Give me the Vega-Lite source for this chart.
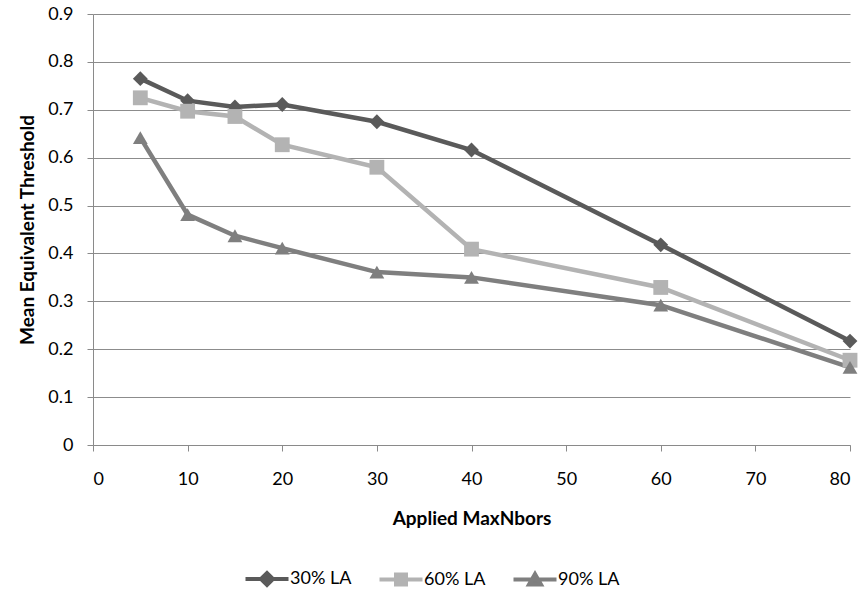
{
  "$schema": "https://vega.github.io/schema/vega-lite/v6.json",
  "width": 757,
  "height": 431,
  "autosize": "none",
  "padding": {"left": 93, "top": 14, "right": 15, "bottom": 149},
  "background": "white",
  "config": {
    "view": {"stroke": null},
    "font": "Lato",
    "axis": {"labelFont": "Lato", "titleFont": "Lato", "labelColor": "#000", "titleColor": "#000", "labelFontSize": 18, "titleFontSize": 19, "titleFontWeight": "bold", "domainColor": "#8a8a8a", "tickColor": "#8a8a8a", "gridColor": "#8c8c8c", "gridOpacity": 1}
  },
  "data": {
    "values": [
      {"n": 5, "v": 0.765, "s": "30% LA"},
      {"n": 10, "v": 0.719, "s": "30% LA"},
      {"n": 15, "v": 0.706, "s": "30% LA"},
      {"n": 20, "v": 0.711, "s": "30% LA"},
      {"n": 30, "v": 0.675, "s": "30% LA"},
      {"n": 40, "v": 0.616, "s": "30% LA"},
      {"n": 60, "v": 0.418, "s": "30% LA"},
      {"n": 80, "v": 0.217, "s": "30% LA"},
      {"n": 5, "v": 0.725, "s": "60% LA"},
      {"n": 10, "v": 0.697, "s": "60% LA"},
      {"n": 15, "v": 0.686, "s": "60% LA"},
      {"n": 20, "v": 0.627, "s": "60% LA"},
      {"n": 30, "v": 0.58, "s": "60% LA"},
      {"n": 40, "v": 0.409, "s": "60% LA"},
      {"n": 60, "v": 0.329, "s": "60% LA"},
      {"n": 80, "v": 0.177, "s": "60% LA"},
      {"n": 5, "v": 0.642, "s": "90% LA"},
      {"n": 10, "v": 0.481, "s": "90% LA"},
      {"n": 15, "v": 0.437, "s": "90% LA"},
      {"n": 20, "v": 0.411, "s": "90% LA"},
      {"n": 30, "v": 0.361, "s": "90% LA"},
      {"n": 40, "v": 0.35, "s": "90% LA"},
      {"n": 60, "v": 0.292, "s": "90% LA"},
      {"n": 80, "v": 0.162, "s": "90% LA"}
    ]
  },
  "encoding": {
    "x": {"field": "n", "type": "quantitative", "scale": {"domain": [0, 80], "nice": false}, "axis": {"title": "Applied MaxNbors", "values": [0,10,20,30,40,50,60,70,80], "grid": false, "tickSize": 6, "labelPadding": 19, "titlePadding": 21, "domainWidth": 1}},
    "y": {"field": "v", "type": "quantitative", "scale": {"domain": [0, 0.9], "nice": false}, "axis": {"title": "Mean Equivalent Threshold", "values": [0,0.1,0.2,0.3,0.4,0.5,0.6,0.7,0.8,0.9], "format": "~g", "tickSize": 6, "labelPadding": 14, "titlePadding": 10, "gridWidth": 1}},
    "color": {"field": "s", "type": "nominal", "scale": {"domain": ["30% LA", "60% LA", "90% LA"], "range": ["#5a5a5a", "#b3b3b3", "#7f7f7f"]},
      "legend": {"title": null, "orient": "none", "direction": "horizontal", "legendX": 165, "legendY": 556, "padding": 0, "labelFont": "Lato", "labelFontSize": 18, "labelColor": "#000", "symbolSize": 100, "symbolStrokeWidth": 4, "columnPadding": 19, "labelOffset": 14,
        "encode": {"symbols": {"update": {"shape": {"signal": "datum.value == '30% LA' ? 'M-4.3,0H4.3M-1.2,0L0,-1.2L1.2,0L0,1.2Z' : datum.value == '60% LA' ? 'M-4.3,0H4.3M-1,-1H1V1H-1Z' : 'M-4.3,0H4.3M-1.2,1L0,-1.1L1.2,1Z'"}, "stroke": {"scale": "color", "field": "value"}, "fill": {"scale": "color", "field": "value"}, "fillOpacity": {"value": 1}, "strokeWidth": {"value": 4}, "opacity": {"value": 1}}}}}
    }
  },
  "layer": [
    {"mark": {"type": "line", "strokeWidth": 4.5}},
    {"transform": [{"filter": "datum.s == '30% LA'"}], "mark": {"type": "point", "filled": true, "opacity": 1, "size": 220, "shape": "diamond"}},
    {"transform": [{"filter": "datum.s == '60% LA'"}], "mark": {"type": "point", "filled": true, "opacity": 1, "size": 220, "shape": "square"}},
    {"transform": [{"filter": "datum.s == '90% LA'"}], "mark": {"type": "point", "filled": true, "opacity": 1, "size": 220, "shape": "triangle-up"}}
  ]
}
